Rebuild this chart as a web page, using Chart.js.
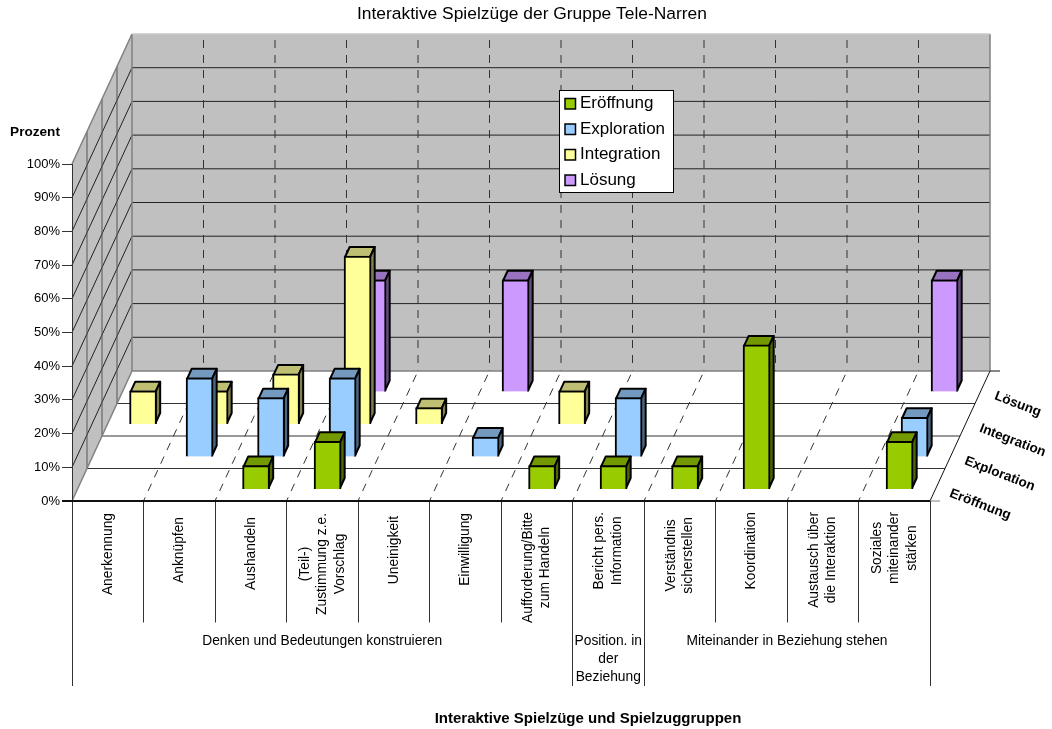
<!DOCTYPE html>
<html lang="de">
<head>
<meta charset="utf-8">
<title>Interaktive Spielzüge der Gruppe Tele-Narren</title>
<script src="https://cdn.jsdelivr.net/npm/chart.js@4/dist/chart.umd.min.js"></script>
<style>
  html, body { margin: 0; padding: 0; background: #fff; }
  canvas { display: block; }
</style>
</head>
<body>
<canvas id="chart" width="1052" height="729"></canvas>
<script>
// Categories, wrapped the way they appear on the axis
const categories = [
  ['Anerkennung'],
  ['Anknüpfen'],
  ['Aushandeln'],
  ['(Teil-)', 'Zustimmung z.e.', 'Vorschlag'],
  ['Uneinigkeit'],
  ['Einwilligung'],
  ['Aufforderung/Bitte', 'zum Handeln'],
  ['Bericht pers.', 'Information'],
  ['Verständnis', 'sicherstellen'],
  ['Koordination'],
  ['Austausch über', 'die Interaktion'],
  ['Soziales', 'miteinander', 'stärken']
];

// Share of moves per phase, in percent
const eroeffnung  = [null, null, 7.1, 14.3, null, null, 7.1, 7.1, 7.1, 42.9, null, 14.3];
const exploration = [null, 23.5, 17.6, 23.5, null, 5.9, null, 17.6, null, null, null, 11.8];
const integration = [10, 10, 15, 50, 5, null, 10, null, null, null, null, null];
const loesung     = [null, null, null, 33.3, null, 33.3, null, null, null, null, null, 33.3];

const seriesNames = ['Eröffnung', 'Exploration', 'Integration', 'Lösung'];
const yTicks = [0, 10, 20, 30, 40, 50, 60, 70, 80, 90, 100];

const groups = [
  { from: 0, to: 7, lines: ['Denken und Bedeutungen konstruieren'] },
  { from: 7, to: 8, lines: ['Position. in', 'der', 'Beziehung'] },
  { from: 8, to: 12, lines: ['Miteinander in Beziehung stehen'] }
];

const FONT = '"Liberation Sans", Arial, sans-serif';

// Oblique projection of the floor: how far the back wall is shifted from the front plane
const DEPTH_X = 60;
const DEPTH_Y = 130;
const ROW_DEPTH = DEPTH_Y / 4;
const ROW_START = 11.5;   // gap between a row's bars and its front edge
const BAR_DEPTH = 10;

// upper end of each rotated category caption
const captionTop = [513, 517, 517, 513, 516, 513, 512, 512, 517, 512, 512, 512];

function shiftX(d) { return d * DEPTH_X / DEPTH_Y; }

function line(ctx, x1, y1, x2, y2) {
  ctx.beginPath();
  ctx.moveTo(x1, y1);
  ctx.lineTo(x2, y2);
  ctx.stroke();
}

function face(ctx, pts, fill) {
  ctx.beginPath();
  pts.forEach((p, i) => i ? ctx.lineTo(p[0], p[1]) : ctx.moveTo(p[0], p[1]));
  ctx.closePath();
  ctx.fillStyle = fill;
  ctx.fill();
  ctx.stroke();
}

// Walls, floor and their grid
const roomPlugin = {
  id: 'room',
  beforeDraw(chart) {
    const { ctx, chartArea: a, scales: { y } } = chart;
    const backL = a.left + DEPTH_X, backR = a.right + DEPTH_X;
    const backT = a.top - DEPTH_Y, backB = a.bottom - DEPTH_Y;
    ctx.save();

    ctx.fillStyle = '#c0c0c0';
    ctx.beginPath();
    ctx.moveTo(a.left, a.bottom);
    ctx.lineTo(a.left, a.top);
    ctx.lineTo(backL, backT);
    ctx.lineTo(backL, backB);
    ctx.closePath();
    ctx.fill();
    ctx.fillRect(backL, backT, backR - backL, backB - backT);

    // value lines across both walls
    ctx.strokeStyle = '#222';
    ctx.lineWidth = 1;
    yTicks.forEach(v => {
      if (v === 0 || v === 100) return;
      const py = y.getPixelForValue(v);
      line(ctx, a.left, py, backL, py - DEPTH_Y);
      line(ctx, backL, py - DEPTH_Y, backR, py - DEPTH_Y);
    });

    // category lines on the back wall and the floor
    ctx.strokeStyle = '#333';
    ctx.setLineDash([8, 7]);
    for (let i = 1; i < categories.length; i++) {
      const px = a.left + (a.right - a.left) * i / categories.length;
      line(ctx, px + DEPTH_X, backT + 6, px + DEPTH_X, backB);
      ctx.lineDashOffset = 4;
      line(ctx, px, a.bottom, px + DEPTH_X, backB);
      ctx.lineDashOffset = 0;
    }
    ctx.setLineDash([]);

    // row lines on the left wall and the floor
    for (let k = 1; k < seriesNames.length; k++) {
      const dx = shiftX(k * ROW_DEPTH), dy = k * ROW_DEPTH;
      ctx.strokeStyle = '#555';
      line(ctx, a.left + dx, a.top - dy, a.left + dx, a.bottom - dy);
      ctx.strokeStyle = '#333';
      line(ctx, a.left + dx, a.bottom - dy, a.right + dx, a.bottom - dy);
    }

    // wall outlines
    ctx.strokeStyle = '#808080';
    ctx.lineWidth = 1.5;
    line(ctx, a.left, a.top, backL, backT);
    line(ctx, a.left, a.bottom, backL, backB);
    line(ctx, backL, backT, backL, backB);
    line(ctx, backL, backB, backR, backB);
    line(ctx, backR, backB, backR, backT);
    ctx.strokeStyle = '#c8c8c8';
    line(ctx, backL, backT, backR, backT);

    // right floor edge
    ctx.strokeStyle = '#111';
    ctx.lineWidth = 1;
    line(ctx, a.right, a.bottom, backR, backB);
    line(ctx, backR, backB, backR + 10, backB);
    ctx.strokeStyle = '#808080';
    line(ctx, a.right, a.bottom, a.right + 10, a.bottom);
    ctx.restore();
  }
};

// Moves every series onto its row and adds the top and side face of each bar
const depthPlugin = {
  id: 'depth',
  beforeDatasetDraw(chart, args) {
    const { ctx } = chart;
    const d = ROW_START + args.index * ROW_DEPTH;
    const ds = chart.data.datasets[args.index];
    ctx.save();
    ctx.translate(shiftX(d), -d);
    ctx.lineWidth = 2;
    ctx.lineJoin = 'round';
    ctx.strokeStyle = '#000';
    const dx = shiftX(BAR_DEPTH);
    args.meta.data.forEach((bar, i) => {
      if (ds.data[i] === null) return;
      const { x, y, base, width } = bar.getProps(['x', 'y', 'base', 'width'], true);
      const l = x - width / 2 + 1, r = x + width / 2 - 1;
      const t = y + 1, b = base - 1;
      face(ctx, [[l, t], [l + dx, t - BAR_DEPTH], [r + dx, t - BAR_DEPTH], [r, t]], ds.topColor);
      face(ctx, [[r, t], [r + dx, t - BAR_DEPTH], [r + dx, b - BAR_DEPTH], [r, b]], ds.sideColor);
    });
  },
  afterDatasetDraw(chart) {
    chart.ctx.restore();
  }
};

function text(ctx, str, x, y) {
  ctx.fillText(str, x, y);
}

// Rotated category captions, group captions and separators under the axis
const captionPlugin = {
  id: 'captions',
  afterDraw(chart) {
    const { ctx, chartArea: a, scales: { x } } = chart;
    const catW = (a.right - a.left) / categories.length;
    ctx.save();
    ctx.fillStyle = '#000';
    ctx.textBaseline = 'middle';

    // separators
    ctx.lineWidth = 1;
    ctx.strokeStyle = '#333';
    const groupEdges = [0, 7, 8, 12];
    for (let i = 0; i <= categories.length; i++) {
      const px = Math.floor(a.left + catW * i) + 0.5;
      line(ctx, px, a.bottom, px, groupEdges.includes(i) ? 686 : 622.5);
    }
    ctx.lineWidth = 2;
    ctx.strokeStyle = '#111';
    line(ctx, a.left - 10, a.bottom, a.right, a.bottom);

    ctx.font = '13.8px ' + FONT;
    ctx.textAlign = 'center';
    categories.forEach((lines, i) => {
      const widest = Math.max(...lines.map(s => ctx.measureText(s).width));
      ctx.save();
      ctx.translate(x.getPixelForValue(i), captionTop[i] + widest / 2);
      ctx.rotate(-Math.PI / 2);
      lines.forEach((s, k) => text(ctx, s, 0, (k - (lines.length - 1) / 2) * 17.5));
      ctx.restore();
    });

    groups.forEach(g => {
      const cx = a.left + catW * (g.from + g.to) / 2;
      g.lines.forEach((s, k) => text(ctx, s, cx, 641.5 + k * 18));
    });

    // chart and axis titles
    ctx.font = '17.4px ' + FONT;
    text(ctx, 'Interaktive Spielzüge der Gruppe Tele-Narren', 532, 14.5);
    ctx.font = 'bold 15px ' + FONT;
    text(ctx, 'Interaktive Spielzüge und Spielzuggruppen', 588, 719);
    ctx.font = 'bold 13.6px ' + FONT;
    text(ctx, 'Prozent', 35, 132.5);

    // depth axis captions
    ctx.font = 'bold 13.5px ' + FONT;
    ctx.textAlign = 'left';
    seriesNames.forEach((name, k) => {
      ctx.save();
      ctx.translate(a.right + 20 + shiftX(k * ROW_DEPTH), a.bottom - 8 - k * ROW_DEPTH);
      ctx.rotate(21 * Math.PI / 180);
      text(ctx, name, 0, 0);
      ctx.restore();
    });

    // legend box
    ctx.fillStyle = '#fff';
    ctx.strokeStyle = '#000';
    ctx.lineWidth = 1;
    ctx.fillRect(559.5, 90.5, 114, 102);
    ctx.strokeRect(559.5, 90.5, 114, 102);
    ctx.font = '17px ' + FONT;
    chart.data.datasets.forEach((ds, k) => {
      const cy = 103.5 + k * 25.5;
      ctx.fillStyle = ds.backgroundColor;
      ctx.lineWidth = 1.5;
      ctx.fillRect(565, cy - 5, 10.5, 10.5);
      ctx.strokeRect(565, cy - 5, 10.5, 10.5);
      ctx.fillStyle = '#000';
      text(ctx, ds.label, 580, cy);
    });
    ctx.restore();
  }
};

const seriesValues = [eroeffnung, exploration, integration, loesung];
const frontColors = ['#99cc00', '#99ccff', '#ffff99', '#cc99ff'];
const topColors   = ['#739900', '#7399bf', '#bfbf73', '#9973bf'];
const sideColors  = ['#4d6600', '#4d6680', '#808050', '#664d80'];

new Chart(document.getElementById('chart'), {
  type: 'bar',
  data: {
    labels: categories.map(c => c.join(' ')),
    datasets: seriesNames.map((name, i) => ({
      label: name,
      data: seriesValues[i],
      backgroundColor: frontColors[i],
      topColor: topColors[i],
      sideColor: sideColors[i],
      borderColor: '#000',
      borderWidth: 2,
      barThickness: 27,
      grouped: false,
      clip: false
    }))
  },
  options: {
    responsive: false,
    animation: false,
    layout: { padding: { top: 164, right: 122, bottom: 228, left: 0 } },
    plugins: { legend: { display: false }, tooltip: { enabled: false } },
    scales: {
      x: {
        grid: { display: false },
        border: { display: false },
        ticks: { display: false },
        afterFit(scale) { scale.height = 0; }
      },
      y: {
        min: 0,
        max: 100,
        afterFit(scale) { scale.width = 72; },
        afterBuildTicks(scale) { scale.ticks = yTicks.map(v => ({ value: v })); },
        border: { color: '#333', width: 1 },
        grid: { drawOnChartArea: false, tickLength: 10, color: '#333' },
        ticks: {
          padding: 2,
          color: '#000',
          font: { family: FONT, size: 13 },
          callback: v => v + '%'
        }
      }
    }
  },
  plugins: [roomPlugin, depthPlugin, captionPlugin]
});
</script>
</body>
</html>
